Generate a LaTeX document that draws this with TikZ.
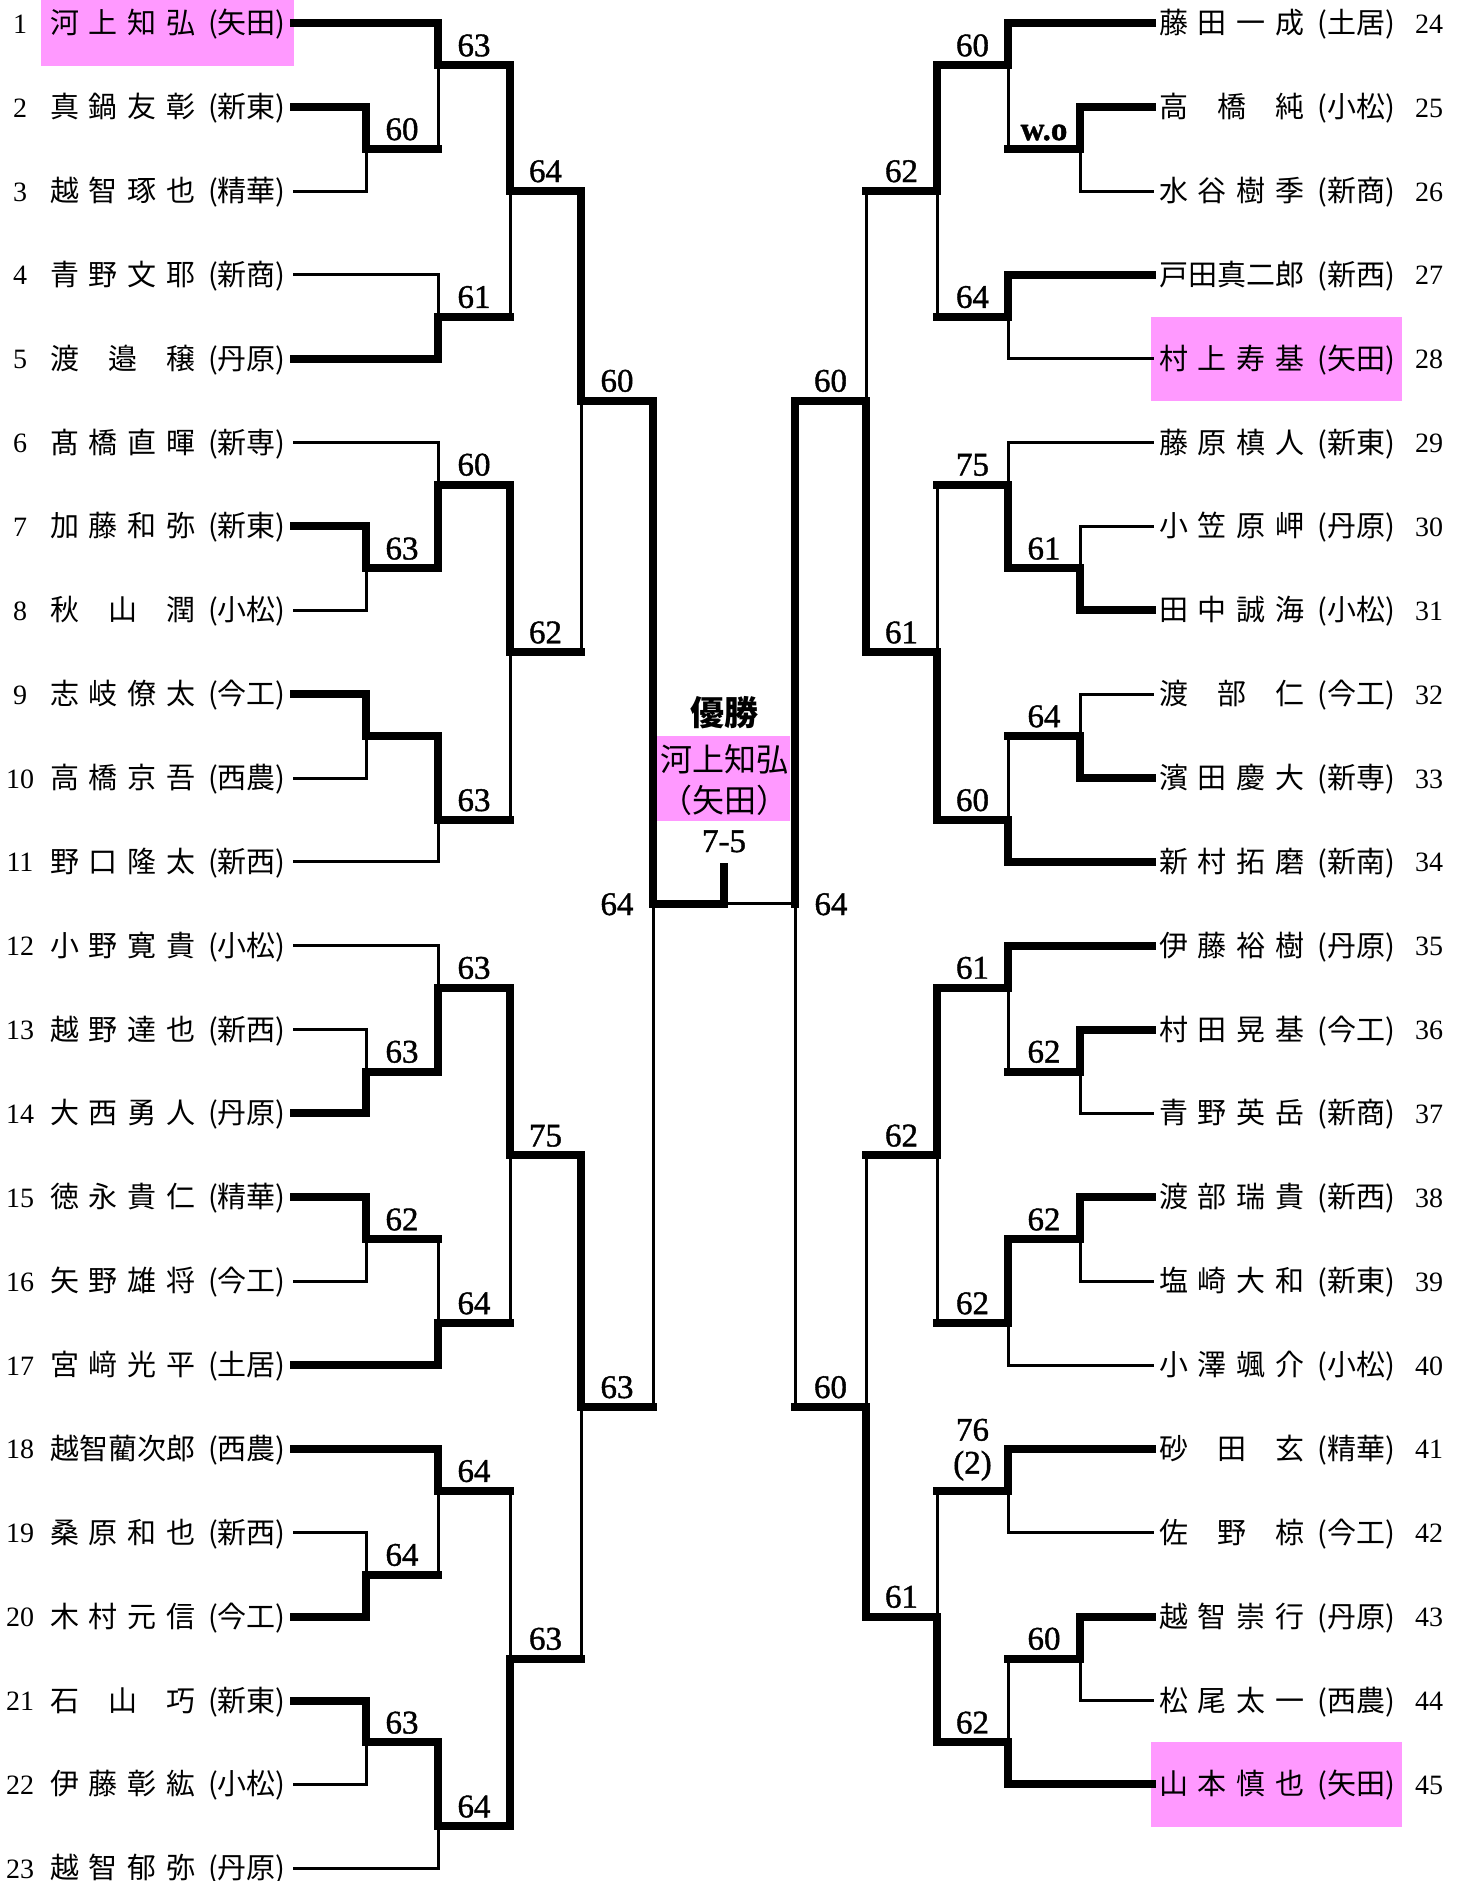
\documentclass[tikz,border=0pt]{standalone}
\usepackage{fontspec}
\setmainfont{Liberation Serif}
\newfontfamily\jp{Noto Sans CJK JP}
\newfontfamily\scf{Liberation Serif}[FakeBold=1.2]
\definecolor{pinkbg}{RGB}{255,153,255}
\pgfmathdeclarefunction{ry}{1}{\pgfmathparse{23.3+83.86*#1}}
\tikzset{
 win/.style={line width=8pt, line cap=rect},
 lose/.style={line width=3pt, line cap=rect},
 score/.style={anchor=base, inner sep=0pt, font=\scf\fontsize{33}{36}\selectfont},
 plname/.style={anchor=base west, inner sep=0pt, font=\jp\fontsize{29}{34}\selectfont},
 plnum/.style={anchor=base, inner sep=0pt, font=\fontsize{28}{32}\selectfont},
 hl/.style={fill=pinkbg, draw=none},
}
\newcommand\pn[2]{\hbox to 145pt{#1}\kern13pt(#2)}
\newcommand\PLL[6]{%
  \node[plnum] (n#1) at (20,{ry(#2)+10}) {#1};
  \node[plname] (p#1) at (50,{ry(#2)+10.5}) {\pn{#3}{#4}};
  \draw[#6] (294,{ry(#2)}) -- (#5,{ry(#2)});
}
\newcommand\PLR[6]{%
  \node[plnum] (n#1) at (1429,{ry(#2)+10}) {#1};
  \node[plname] (p#1) at (1159,{ry(#2)+10.5}) {\pn{#3}{#4}};
  \draw[#6] (1152,{ry(#2)}) -- (#5,{ry(#2)});
}
% #1 vertical x, #2 next x, #3 winner row, #4 loser row, #5 output row, #6 label
\newcommand\mt[6]{%
  \draw[win] (#1,{ry(#3)}) -- (#1,{ry(#5)}) -- (#2,{ry(#5)});
  \draw[lose] (#1,{ry(#5)}) -- (#1,{ry(#4)});
  \node[score] at ({(#1+#2)/2},{ry(#5)-9}) {#6};
}
\def\lA{366}\def\lB{438}\def\lC{510}\def\lD{581}\def\lE{653}
\def\rA{1080}\def\rB{1008}\def\rC{937}\def\rD{866}\def\rE{795}
\begin{document}
\begin{tikzpicture}[x=1pt,y=-1pt]
\useasboundingbox (0,0) rectangle (1461,1881);
% highlight boxes
\fill[hl] (41,0) rectangle (294,{ry(0)+43});
\fill[hl] (1151,{ry(4)-42}) rectangle (1402,{ry(4)+42});
\fill[hl] (1151,{ry(21)-42}) rectangle (1402,{ry(21)+43});
\fill[hl] (657,736) rectangle (790,821);
% left players
\PLL{1}{0}{河\hfill 上\hfill 知\hfill 弘}{矢田}{\lB}{win}
\PLL{2}{1}{真\hfill 鍋\hfill 友\hfill 彰}{新東}{\lA}{win}
\PLL{3}{2}{越\hfill 智\hfill 琢\hfill 也}{精華}{\lA}{lose}
\PLL{4}{3}{青\hfill 野\hfill 文\hfill 耶}{新商}{\lB}{lose}
\PLL{5}{4}{渡\hfill 邉\hfill 穣}{丹原}{\lB}{win}
\PLL{6}{5}{髙\hfill 橋\hfill 直\hfill 暉}{新専}{\lB}{lose}
\PLL{7}{6}{加\hfill 藤\hfill 和\hfill 弥}{新東}{\lA}{win}
\PLL{8}{7}{秋\hfill 山\hfill 潤}{小松}{\lA}{lose}
\PLL{9}{8}{志\hfill 岐\hfill 僚\hfill 太}{今工}{\lA}{win}
\PLL{10}{9}{高\hfill 橋\hfill 京\hfill 吾}{西農}{\lA}{lose}
\PLL{11}{10}{野\hfill 口\hfill 隆\hfill 太}{新西}{\lB}{lose}
\PLL{12}{11}{小\hfill 野\hfill 寛\hfill 貴}{小松}{\lB}{lose}
\PLL{13}{12}{越\hfill 野\hfill 達\hfill 也}{新西}{\lA}{lose}
\PLL{14}{13}{大\hfill 西\hfill 勇\hfill 人}{丹原}{\lA}{win}
\PLL{15}{14}{徳\hfill 永\hfill 貴\hfill 仁}{精華}{\lA}{win}
\PLL{16}{15}{矢\hfill 野\hfill 雄\hfill 将}{今工}{\lA}{lose}
\PLL{17}{16}{宮\hfill 﨑\hfill 光\hfill 平}{土居}{\lB}{win}
\PLL{18}{17}{越\hfill 智\hfill 藺\hfill 次\hfill 郎}{西農}{\lB}{win}
\PLL{19}{18}{桑\hfill 原\hfill 和\hfill 也}{新西}{\lA}{lose}
\PLL{20}{19}{木\hfill 村\hfill 元\hfill 信}{今工}{\lA}{win}
\PLL{21}{20}{石\hfill 山\hfill 巧}{新東}{\lA}{win}
\PLL{22}{21}{伊\hfill 藤\hfill 彰\hfill 紘}{小松}{\lA}{lose}
\PLL{23}{22}{越\hfill 智\hfill 郁\hfill 弥}{丹原}{\lB}{lose}
% right players
\PLR{24}{0}{藤\hfill 田\hfill 一\hfill 成}{土居}{\rB}{win}
\PLR{25}{1}{高\hfill 橋\hfill 純}{小松}{\rA}{win}
\PLR{26}{2}{水\hfill 谷\hfill 樹\hfill 季}{新商}{\rA}{lose}
\PLR{27}{3}{戸\hfill 田\hfill 真\hfill 二\hfill 郎}{新西}{\rB}{win}
\PLR{28}{4}{村\hfill 上\hfill 寿\hfill 基}{矢田}{\rB}{lose}
\PLR{29}{5}{藤\hfill 原\hfill 槙\hfill 人}{新東}{\rB}{lose}
\PLR{30}{6}{小\hfill 笠\hfill 原\hfill 岬}{丹原}{\rA}{lose}
\PLR{31}{7}{田\hfill 中\hfill 誠\hfill 海}{小松}{\rA}{win}
\PLR{32}{8}{渡\hfill 部\hfill 仁}{今工}{\rA}{lose}
\PLR{33}{9}{濱\hfill 田\hfill 慶\hfill 大}{新専}{\rA}{win}
\PLR{34}{10}{新\hfill 村\hfill 拓\hfill 磨}{新南}{\rB}{win}
\PLR{35}{11}{伊\hfill 藤\hfill 裕\hfill 樹}{丹原}{\rB}{win}
\PLR{36}{12}{村\hfill 田\hfill 晃\hfill 基}{今工}{\rA}{win}
\PLR{37}{13}{青\hfill 野\hfill 英\hfill 岳}{新商}{\rA}{lose}
\PLR{38}{14}{渡\hfill 部\hfill 瑞\hfill 貴}{新西}{\rA}{win}
\PLR{39}{15}{塩\hfill 崎\hfill 大\hfill 和}{新東}{\rA}{lose}
\PLR{40}{16}{小\hfill 澤\hfill 颯\hfill 介}{小松}{\rB}{lose}
\PLR{41}{17}{砂\hfill 田\hfill 玄}{精華}{\rB}{win}
\PLR{42}{18}{佐\hfill 野\hfill 椋}{今工}{\rB}{lose}
\PLR{43}{19}{越\hfill 智\hfill 崇\hfill 行}{丹原}{\rA}{win}
\PLR{44}{20}{松\hfill 尾\hfill 太\hfill 一}{西農}{\rA}{lose}
\PLR{45}{21}{山\hfill 本\hfill 慎\hfill 也}{矢田}{\rB}{win}
% left matches
\mt{\lA}{\lB}{1}{2}{1.5}{60}
\mt{\lB}{\lC}{0}{1.5}{0.5}{63}
\mt{\lB}{\lC}{4}{3}{3.5}{61}
\mt{\lC}{\lD}{0.5}{3.5}{2}{64}
\mt{\lA}{\lB}{6}{7}{6.5}{63}
\mt{\lB}{\lC}{6.5}{5}{5.5}{60}
\mt{\lA}{\lB}{8}{9}{8.5}{}
\mt{\lB}{\lC}{8.5}{10}{9.5}{63}
\mt{\lC}{\lD}{5.5}{9.5}{7.5}{62}
\mt{\lD}{\lE}{2}{7.5}{4.5}{60}
\mt{\lA}{\lB}{13}{12}{12.5}{63}
\mt{\lB}{\lC}{12.5}{11}{11.5}{63}
\mt{\lA}{\lB}{14}{15}{14.5}{62}
\mt{\lB}{\lC}{16}{14.5}{15.5}{64}
\mt{\lC}{\lD}{11.5}{15.5}{13.5}{75}
\mt{\lA}{\lB}{19}{18}{18.5}{64}
\mt{\lB}{\lC}{17}{18.5}{17.5}{64}
\mt{\lA}{\lB}{20}{21}{20.5}{63}
\mt{\lB}{\lC}{20.5}{22}{21.5}{64}
\mt{\lC}{\lD}{21.5}{17.5}{19.5}{63}
\mt{\lD}{\lE}{13.5}{19.5}{16.5}{63}
% right matches
\mt{\rA}{\rB}{1}{2}{1.5}{\textbf{w.o}}
\mt{\rB}{\rC}{0}{1.5}{0.5}{60}
\mt{\rB}{\rC}{3}{4}{3.5}{64}
\mt{\rC}{\rD}{0.5}{3.5}{2}{62}
\mt{\rA}{\rB}{7}{6}{6.5}{61}
\mt{\rB}{\rC}{6.5}{5}{5.5}{75}
\mt{\rA}{\rB}{9}{8}{8.5}{64}
\mt{\rB}{\rC}{10}{8.5}{9.5}{60}
\mt{\rC}{\rD}{9.5}{5.5}{7.5}{61}
\mt{\rD}{\rE}{7.5}{2}{4.5}{60}
\mt{\rA}{\rB}{12}{13}{12.5}{62}
\mt{\rB}{\rC}{11}{12.5}{11.5}{61}
\mt{\rA}{\rB}{14}{15}{14.5}{62}
\mt{\rB}{\rC}{14.5}{16}{15.5}{62}
\mt{\rC}{\rD}{11.5}{15.5}{13.5}{62}
\mt{\rB}{\rC}{17}{18}{17.5}{}
\node[score, anchor=south, align=center, font=\scf\fontsize{33}{33}\selectfont] (s76) at ({(\rB+\rC)/2},{ry(17.5)-10}) {76\\(2)};
\mt{\rA}{\rB}{19}{20}{19.5}{60}
\mt{\rB}{\rC}{21}{19.5}{20.5}{62}
\mt{\rC}{\rD}{20.5}{17.5}{19}{61}
\mt{\rD}{\rE}{19}{13.5}{16.5}{60}
% final
\draw[win] (\lE,{ry(4.5)}) -- (\lE,{ry(10.5)}) -- (724,{ry(10.5)}) -- (724,867);
\draw[lose] (\lE,{ry(10.5)}) -- (\lE,{ry(16.5)});
\draw[lose] (724,{ry(10.5)}) -- (\rE,{ry(10.5)});
\draw[win] (\rE,{ry(4.5)}) -- (\rE,{ry(10.5)});
\draw[lose] (\rE,{ry(10.5)}) -- (\rE,{ry(16.5)});
\node[score] (fl) at (617,915) {64};
\node[score] (fr) at (831,915) {64};
\node[inner sep=0pt, font=\jp\bfseries\fontsize{34}{38}\selectfont] (yusho) at (724,713) {優勝};
\node[inner sep=0pt, font=\jp\fontsize{32}{36}\selectfont] (champ) at (724,759) {河上知弘};
\node[inner sep=0pt, font=\jp\fontsize{32}{36}\selectfont] (champs) at (724,800) {（矢田）};
\node[score] (fs) at (724,852) {7-5};
\end{tikzpicture}
\end{document}
